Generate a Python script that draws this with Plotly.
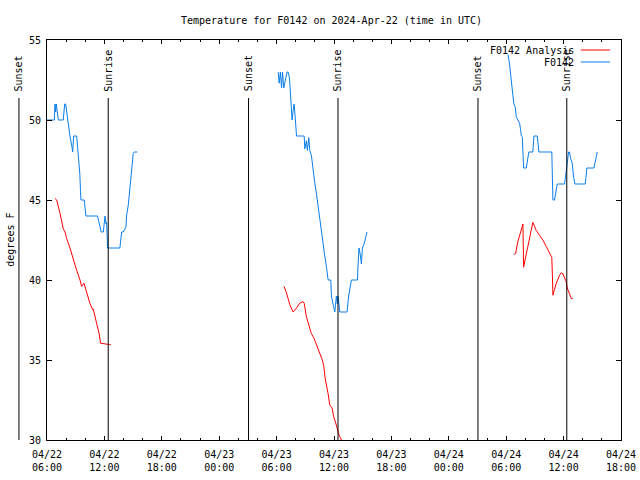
import plotly.graph_objects as go
import pandas as pd

FONT = "DejaVu Sans Mono"
RED = "#ff0000"
BLUE = "#0a7ee8"

X0 = "2024-04-22 06:00"
X1 = "2024-04-24 18:00"

# ---- F0142 observations (blue) ----
obs1_time = ["2024-04-22 06:00", "2024-04-22 06:46", "2024-04-22 06:50", "2024-04-22 06:54", "2024-04-22 06:58",
             "2024-04-22 07:11", "2024-04-22 07:42", "2024-04-22 07:51", "2024-04-22 07:57", "2024-04-22 08:03",
             "2024-04-22 08:10", "2024-04-22 08:14", "2024-04-22 08:20", "2024-04-22 08:24", "2024-04-22 08:37",
             "2024-04-22 08:41", "2024-04-22 08:47", "2024-04-22 09:06", "2024-04-22 09:12", "2024-04-22 09:20",
             "2024-04-22 09:26", "2024-04-22 09:30", "2024-04-22 09:33", "2024-04-22 09:54", "2024-04-22 10:04",
             "2024-04-22 11:17", "2024-04-22 11:32", "2024-04-22 11:40", "2024-04-22 11:53", "2024-04-22 12:04",
             "2024-04-22 12:10", "2024-04-22 12:14", "2024-04-22 12:20", "2024-04-22 13:37", "2024-04-22 13:48",
             "2024-04-22 13:58", "2024-04-22 14:15", "2024-04-22 14:19", "2024-04-22 14:30", "2024-04-22 14:40",
             "2024-04-22 14:46", "2024-04-22 14:55", "2024-04-22 15:01", "2024-04-22 15:07", "2024-04-22 15:26"]
obs1_temp = [50, 50, 51, 50.5, 51,
             50, 50, 51, 51, 50.5,
             50, 49.7, 49.2, 49, 48.3,
             48, 49, 49, 48.3, 47.4,
             46.6, 45.6, 45, 45, 44,
             44, 43.3, 43, 43, 44,
             43.5, 43.6, 42, 42, 43,
             43, 43.3, 44, 44.7, 45.7,
             46.6, 47.4, 47.9, 48, 48]

obs2_time = ["2024-04-23 06:10", "2024-04-23 06:16", "2024-04-23 06:24", "2024-04-23 06:31", "2024-04-23 06:37",
             "2024-04-23 06:45", "2024-04-23 06:51", "2024-04-23 06:58", "2024-04-23 07:06", "2024-04-23 07:12",
             "2024-04-23 07:19", "2024-04-23 07:23", "2024-04-23 07:29", "2024-04-23 07:37", "2024-04-23 07:44",
             "2024-04-23 07:50", "2024-04-23 07:58", "2024-04-23 08:05", "2024-04-23 08:53", "2024-04-23 08:57",
             "2024-04-23 09:07", "2024-04-23 09:13", "2024-04-23 09:22", "2024-04-23 09:28", "2024-04-23 09:38",
             "2024-04-23 09:49", "2024-04-23 09:59", "2024-04-23 10:10", "2024-04-23 10:20", "2024-04-23 10:31",
             "2024-04-23 10:41", "2024-04-23 10:52", "2024-04-23 11:02", "2024-04-23 11:13", "2024-04-23 11:23",
             "2024-04-23 11:40", "2024-04-23 11:44", "2024-04-23 11:54", "2024-04-23 12:05", "2024-04-23 12:15",
             "2024-04-23 12:21", "2024-04-23 12:26", "2024-04-23 12:36", "2024-04-23 13:22", "2024-04-23 13:32",
             "2024-04-23 13:49", "2024-04-23 14:27", "2024-04-23 14:31", "2024-04-23 14:37", "2024-04-23 14:46",
             "2024-04-23 14:52", "2024-04-23 14:58", "2024-04-23 15:07", "2024-04-23 15:15", "2024-04-23 15:23",
             "2024-04-23 15:27"]
obs2_temp = [53, 52.3, 53, 52, 53,
             52, 52.3, 52.7, 53, 53,
             52.7, 52.3, 51, 50, 50.6,
             51, 50, 49, 49, 48.2,
             48.7, 48.1, 48.9, 48.1, 47.8,
             46.8, 46.1, 45.4, 44.6, 43.8,
             43, 42.3, 41.5, 40.8, 40,
             40, 39, 38.5, 38, 39,
             38.5, 39, 38, 38, 39,
             40, 40, 41, 42, 41.5,
             41, 42, 42.2, 42.5, 42.8,
             43]

obs3_time = ["2024-04-24 06:11", "2024-04-24 06:17", "2024-04-24 06:21", "2024-04-24 06:26", "2024-04-24 06:32",
             "2024-04-24 06:38", "2024-04-24 06:42", "2024-04-24 06:48", "2024-04-24 06:57", "2024-04-24 07:03",
             "2024-04-24 07:13", "2024-04-24 07:24", "2024-04-24 07:30", "2024-04-24 07:35", "2024-04-24 07:41",
             "2024-04-24 07:45", "2024-04-24 07:49", "2024-04-24 08:06", "2024-04-24 08:16", "2024-04-24 08:22",
             "2024-04-24 08:47", "2024-04-24 08:54", "2024-04-24 09:15", "2024-04-24 09:23", "2024-04-24 09:25",
             "2024-04-24 10:46", "2024-04-24 10:49", "2024-04-24 10:53", "2024-04-24 11:03", "2024-04-24 11:10",
             "2024-04-24 11:20", "2024-04-24 12:06", "2024-04-24 12:16", "2024-04-24 12:23", "2024-04-24 12:31",
             "2024-04-24 12:37", "2024-04-24 12:44", "2024-04-24 12:54", "2024-04-24 13:02", "2024-04-24 13:11",
             "2024-04-24 14:16", "2024-04-24 14:22", "2024-04-24 14:26", "2024-04-24 15:10", "2024-04-24 15:16",
             "2024-04-24 15:25", "2024-04-24 15:31"]
obs3_temp = [54.1, 53.85, 53.5, 53, 52.5,
             52.1, 51.7, 51, 50.8, 50.2,
             50, 49.8, 49.4, 49, 48.95,
             48.1, 47, 47, 47.7, 48,
             48, 49, 49, 48.3, 48,
             48, 46.6, 45, 45, 45.5,
             46, 46, 46.6, 47.3, 48,
             48, 47.6, 47.3, 46.5, 46,
             46, 46.7, 47, 47, 47.4,
             47.7, 48]

# ---- F0142 Analysis (red) ----
ana1_time = ["2024-04-22 06:50", "2024-04-22 07:01", "2024-04-22 07:21", "2024-04-22 07:42", "2024-04-22 07:53",
             "2024-04-22 08:03", "2024-04-22 08:24", "2024-04-22 08:45", "2024-04-22 09:06", "2024-04-22 09:27",
             "2024-04-22 09:37", "2024-04-22 09:52", "2024-04-22 10:08", "2024-04-22 10:29", "2024-04-22 10:46",
             "2024-04-22 10:50", "2024-04-22 11:11", "2024-04-22 11:26", "2024-04-22 11:36", "2024-04-22 12:40"]
ana1_temp = [45.1, 45.0, 44.2, 43.2, 43.0,
             42.6, 42.0, 41.25, 40.6, 40.0,
             39.6, 39.8, 39.2, 38.55, 38.15,
             38.2, 37.3, 36.7, 36.05, 35.95]

ana2_time = ["2024-04-23 06:47", "2024-04-23 07:02", "2024-04-23 07:23", "2024-04-23 07:44", "2024-04-23 08:05",
             "2024-04-23 08:25", "2024-04-23 08:46", "2024-04-23 08:53", "2024-04-23 09:07", "2024-04-23 09:22",
             "2024-04-23 09:38", "2024-04-23 09:55", "2024-04-23 10:10", "2024-04-23 10:31", "2024-04-23 10:47",
             "2024-04-23 10:56", "2024-04-23 11:06", "2024-04-23 11:23", "2024-04-23 11:33", "2024-04-23 11:48",
             "2024-04-23 11:58", "2024-04-23 12:11", "2024-04-23 12:21", "2024-04-23 12:32", "2024-04-23 12:47",
             "2024-04-23 13:00"]
ana2_temp = [39.6, 39.2, 38.45, 38.0, 38.25,
             38.55, 38.65, 38.55, 37.7, 37.1,
             36.65, 36.35, 35.95, 35.4, 35.0,
             34.6, 33.75, 32.9, 32.2, 32.0,
             31.45, 31.05, 30.6, 30.3, 30.0,
             29.7]

ana3_time = ["2024-04-24 06:48", "2024-04-24 06:59", "2024-04-24 07:13", "2024-04-24 07:24", "2024-04-24 07:35",
             "2024-04-24 07:45", "2024-04-24 07:49", "2024-04-24 07:53", "2024-04-24 08:02", "2024-04-24 08:10",
             "2024-04-24 08:22", "2024-04-24 08:37", "2024-04-24 08:47", "2024-04-24 08:58", "2024-04-24 09:08",
             "2024-04-24 09:29", "2024-04-24 09:50", "2024-04-24 10:11", "2024-04-24 10:32", "2024-04-24 10:46",
             "2024-04-24 10:50", "2024-04-24 10:53", "2024-04-24 11:03", "2024-04-24 11:14", "2024-04-24 11:35",
             "2024-04-24 11:45", "2024-04-24 11:55", "2024-04-24 12:06", "2024-04-24 12:16", "2024-04-24 12:23",
             "2024-04-24 12:31", "2024-04-24 12:41", "2024-04-24 12:48", "2024-04-24 12:58"]
ana3_temp = [41.6, 41.65, 42.4, 42.8, 43.2,
             43.5, 40.8, 41.0, 41.35, 41.9,
             42.5, 43.2, 43.6, 43.35, 43.1,
             42.8, 42.5, 42.1, 41.65, 41.4,
             40.2, 39.05, 39.4, 39.8, 40.3,
             40.45, 40.4, 40.1, 39.9, 39.5,
             39.3, 38.95, 38.85, 38.85]

# ---- Sun events ----
event_time = ["2024-04-22 03:04", "2024-04-22 12:24", "2024-04-23 03:04",
              "2024-04-23 12:25", "2024-04-24 03:03", "2024-04-24 12:20"]
event_name = ["Sunset", "Sunrise", "Sunset", "Sunrise", "Sunset", "Sunrise"]

TITLE = "Temperature for F0142 on 2024-Apr-22 (time in UTC)"
Y_LABEL = "degrees F"
SERIES_NAMES = ["F0142 Analysis", "F0142"]


def join(*segs):
    xs, ys = [], []
    for t, v in segs:
        if xs:
            xs.append(None)
            ys.append(None)
        xs.extend(pd.to_datetime(t))
        ys.extend(v)
    return xs, ys


ax_x, ax_y = join((ana1_time, ana1_temp), (ana2_time, ana2_temp), (ana3_time, ana3_temp))
ob_x, ob_y = join((obs1_time, obs1_temp), (obs2_time, obs2_temp), (obs3_time, obs3_temp))

fig = go.Figure()
fig.add_trace(go.Scatter(x=ax_x, y=ax_y, mode="lines", name=SERIES_NAMES[0],
                         line=dict(color=RED, width=1), connectgaps=False))
fig.add_trace(go.Scatter(x=ob_x, y=ob_y, mode="lines", name=SERIES_NAMES[1],
                         line=dict(color=BLUE, width=1), connectgaps=False))

t0 = pd.Timestamp(X0)
t1 = pd.Timestamp(X1)


def xfrac(t):
    return (pd.Timestamp(t) - t0) / (t1 - t0)


LINE_TOP = 0.855
LABEL_Y = 0.866
shapes = []
annotations = []
for t, name in zip(event_time, event_name):
    f = xfrac(t)
    shapes.append(dict(type="line", xref="paper", yref="paper", x0=f, x1=f, y0=0, y1=LINE_TOP,
                       line=dict(color="black", width=1)))
    annotations.append(dict(xref="paper", yref="paper", x=f, y=LABEL_Y, text=name, textangle=-90,
                            showarrow=False, xanchor="center", yanchor="bottom",
                            font=dict(family=FONT, size=10, color="black")))

# legend (text left of the sample line, gnuplot style)
leg_y = [0.975, 0.945]
for name, col, yy in zip(SERIES_NAMES, [RED, BLUE], leg_y):
    annotations.append(dict(xref="paper", yref="paper", x=0.922, y=yy, text=name, showarrow=False,
                            xanchor="right", yanchor="middle",
                            font=dict(family=FONT, size=10, color="black")))
    shapes.append(dict(type="line", xref="paper", yref="paper", x0=0.930, x1=0.981, y0=yy, y1=yy,
                       line=dict(color=col, width=1)))

annotations.append(dict(xref="paper", yref="paper", x=-0.065, y=0.5, text=Y_LABEL, textangle=-90,
                        showarrow=False, xanchor="center", yanchor="middle",
                        font=dict(family=FONT, size=10, color="black")))

fig.update_layout(
    width=640, height=480, autosize=False,
    margin=dict(l=47, r=19, t=40, b=40, autoexpand=False),
    paper_bgcolor="white", plot_bgcolor="white",
    showlegend=False,
    font=dict(family=FONT, size=10, color="black"),
    title=dict(text=TITLE, x=0.518, xref="container", y=0.958, yref="container",
               xanchor="center", yanchor="middle", font=dict(family=FONT, size=10, color="black")),
    shapes=shapes,
    annotations=annotations,
)
fig.update_xaxes(
    type="date", range=[X0, X1], automargin=False,
    tick0=X0, dtick=6 * 3600 * 1000, tickformat="%m/%d<br>%H:%M",
    ticks="inside", ticklen=4, tickcolor="black", tickwidth=1,
    ticklabelstandoff=5,
    minor=dict(dtick=2 * 3600 * 1000, ticks="inside", ticklen=2, tickcolor="black", showgrid=False),
    showline=True, linecolor="black", linewidth=1, mirror="ticks",
    showgrid=False, zeroline=False,
    tickfont=dict(family=FONT, size=10, color="black"),
)
fig.update_yaxes(
    range=[30, 55], tick0=30, dtick=5, automargin=False,
    ticks="inside", ticklen=5, tickcolor="black", tickwidth=1,
    ticklabelstandoff=3,
    showline=True, linecolor="black", linewidth=1, mirror="ticks",
    showgrid=False, zeroline=False,
    tickfont=dict(family=FONT, size=10, color="black"),
)

fig.write_html("out.html",
               config={"displayModeBar": False, "responsive": False},
               post_script="document.body.style.margin='0';document.body.style.overflow='hidden';")
